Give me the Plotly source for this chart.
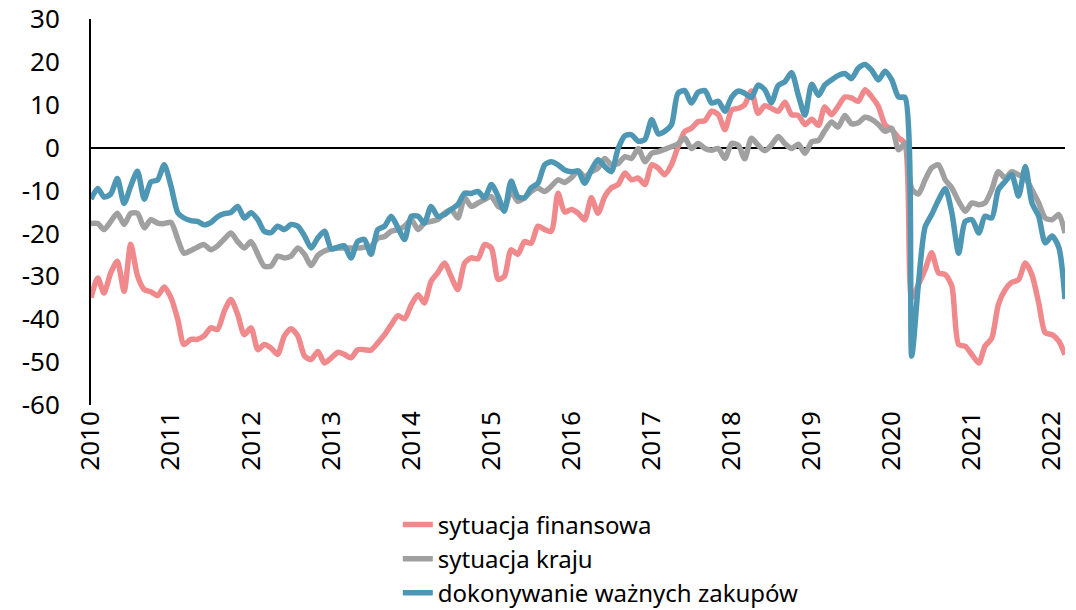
import pandas as pd
import plotly.graph_objects as go

# monthly observations, Jan 2010 - Mar 2022
months = pd.date_range("2010-01-01", periods=147, freq="MS")

year_ticks = [f"{y}-01-01" for y in range(2010, 2023)]
year_labels = [str(y) for y in range(2010, 2023)]

y_ticks = [-60, -50, -40, -30, -20, -10, 0, 10, 20, 30]
y_labels = ["-60", "-50", "-40", "-30", "-20", "-10", "0", "10", "20", "30"]

sytuacja_finansowa = [
    -35, -30.4, -33.9, -29.2, -26.5, -33.5, -22.5, -29.9, -33.1, -33.6, -34.5, -32.5,
    -35, -40.1, -45.9, -44.7, -44.7, -43.9, -42, -42.4, -38.1, -35.4, -38.9, -43.6,
    -42, -47.1, -45.9, -46.7, -48.2, -43.9, -42.2, -43.9, -48.6, -49.4, -47.5, -50.2,
    -49, -47.7, -48.2, -49, -47.1, -47.1, -47.2, -45.5, -43.6, -41.3, -39.2, -39.9,
    -36.6, -34.3, -36.2, -31.2, -29.2, -26.9, -30, -33.1, -26.9, -25.7, -25.9, -22.6,
    -23.4, -30.7, -30, -23.8, -24.9, -21.9, -22.3, -18.3, -19.1, -19.5, -10.6, -15,
    -14.4, -15.3, -16.8, -11.7, -15.3, -11.4, -9.4, -8.6, -5.9, -7.5, -7.1, -8.6,
    -4, -4.8, -6.3, -4, 0.2, 3.8, 4.5, 6.1, 6.3, 8.5, 7.7, 4.2,
    8.8, 9.2, 10, 13.2, 8, 9.8, 9.2, 8.5, 10.6, 7.7, 7.5, 5.4,
    6.6, 5.2, 9.5, 7.7, 9.6, 11.8, 11.6, 10.8, 13.5, 11.9, 9.6, 5.4,
    4.2, 2.3, 1, -35, -32, -28.4, -24.5, -29.2, -29.6, -32.3, -45.9, -46.3,
    -48.3, -50.2, -46.3, -44.4, -36.6, -33.1, -31.4, -30.8, -26.9, -29.6, -36.2, -43.2,
    -43.6, -45.1, -48.3,
]

sytuacja_kraju = [
    -17.7, -17.7, -19.1, -17.2, -15.3, -17.9, -15.3, -15.3, -18.7, -16.8, -17.6, -17.7,
    -17.4, -21.4, -24.6, -24, -23.2, -22.6, -23.8, -22.9, -21.3, -19.9, -21.9, -23.4,
    -21.9, -24.9, -27.6, -27.6, -25.3, -25.7, -25.3, -23.4, -24.9, -27.5, -25.1, -24.1,
    -23.6, -23.4, -23.4, -23.4, -23.4, -23.2, -23, -21.1, -20.7, -19.5, -19.1, -18.3,
    -16.8, -19.1, -17.6, -17.2, -16.8, -15.3, -14.4, -16.4, -11.7, -13.7, -12.9, -12.1,
    -11.4, -13.7, -14.1, -10.2, -12.5, -11.7, -10.2, -9.4, -10.2, -9, -7.5, -8.1,
    -7, -5.4, -6.8, -5.6, -4.8, -2.5, -4, -3.7, -2.1, -2.5, -0.2, -3.3,
    -1.3, -0.9, -0.4, 0.2, 0.9, 2.2, -0.2, 1, -0.2, -0.6, -0.2, -2.5,
    1, 0.5, -2.6, 2.2, 0.6, -0.7, 0.6, 2.6, 0.9, -0.2, 0.8, -1.3,
    1.4, 1.7, 3.9, 6, 4.8, 7.5, 5.6, 5.8, 7.1, 6.6, 5.4, 3.8,
    4.5, -0.5, 1, -9.6, -10.8, -7.5, -4.7, -4, -7.5, -9.4, -12.5, -14.8,
    -12.9, -13.3, -12.9, -9.8, -5.6, -7.1, -5.6, -6.3, -7.1, -9.8, -12.9, -16.4,
    -16.8, -15.6, -19.9,
]

wazne_zakupy = [
    -12, -9.5, -11.5, -10.8, -7.2, -13, -9, -5.5, -12, -8, -7.5, -4,
    -9, -15.2, -16.4, -17, -17.2, -18, -17.5, -16.1, -15.4, -15.1, -13.7, -16.4,
    -15.2, -16.8, -19.5, -19.8, -18.3, -19.1, -17.9, -18.3, -20.6, -23.4, -21, -19.5,
    -23.6, -23.2, -22.9, -25.7, -21.9, -21.4, -24.9, -19.1, -18.3, -16, -18.7, -21.4,
    -16, -16, -17.6, -13.7, -16, -15.6, -14.4, -13.3, -10.6, -10.7, -10.2, -11.7,
    -8.6, -11.4, -14.8, -7.8, -11.4, -11.7, -9.4, -8.3, -4, -3.3, -4, -5.2,
    -5.6, -5.5, -8.3, -5.2, -2.8, -4.4, -5.6, -0.2, 2.8, 3, 1.5, 1.9,
    6.5, 3.2, 3.8, 5.3, 12.7, 13.3, 10.4, 12.9, 13.3, 10.4, 10.8, 8.5,
    11.8, 13.2, 12.7, 11.7, 14.6, 13.5, 10.5, 14.5, 15.4, 17.5, 12.2, 7.6,
    14.8, 12.2, 14.6, 15.8, 16.8, 17.3, 16.1, 18.5, 19.4, 18.1, 15.8, 17.8,
    15.8, 11.8, 11.7, -48.6, -32, -18.5, -15.6, -12.2, -9.6, -15.2, -24.6, -17.2,
    -16.8, -19.9, -16, -16.4, -9.8, -7.9, -6.3, -11.3, -4.4, -12.9, -16, -22.2,
    -20.6, -23.3, -35.3,
]

series = [
    ("sytuacja finansowa", sytuacja_finansowa, "#F0898B"),
    ("sytuacja kraju", sytuacja_kraju, "#A0A0A0"),
    ("dokonywanie ważnych zakupów", wazne_zakupy, "#4D96B4"),
]

FONT = "Noto Sans"

fig = go.Figure()
for name, vals, col in series:
    fig.add_trace(go.Scatter(
        x=months, y=vals, name=name, mode="lines",
        line=dict(color=col, width=5.5, shape="spline", smoothing=0.7),
    ))

fig.update_layout(
    width=1076, height=610,
    margin=dict(l=91, r=11, t=19, b=205, autoexpand=False),
    paper_bgcolor="white", plot_bgcolor="white",
    font=dict(family=FONT, size=26, color="black"),
    showlegend=True,
    legend=dict(
        orientation="v", xref="paper", x=0.315, xanchor="left",
        yref="container", y=0.1765, yanchor="top",
        font=dict(family=FONT, size=24, color="black"),
        bgcolor="rgba(0,0,0,0)", tracegroupgap=0, maxheight=300,
    ),
    xaxis=dict(
        range=[months[0], months[-1]], automargin=False,
        tickmode="array", tickvals=year_ticks, ticktext=year_labels,
        tickangle=-90, showgrid=False, showline=False, zeroline=False,
        ticks="", tickfont=dict(family=FONT, size=26),
        ticklabeloverflow="allow",
    ),
    yaxis=dict(
        range=[-60, 30], automargin=False,
        tickmode="array", tickvals=y_ticks, ticktext=y_labels,
        showgrid=False, showline=True, linecolor="black", linewidth=2,
        zeroline=True, zerolinecolor="black", zerolinewidth=2,
        ticks="", ticklabelstandoff=24, tickfont=dict(family=FONT, size=26),
        ticklabeloverflow="allow",
    ),
)

# remove the default 8 px page margin so the figure fills the window exactly
fig.write_html(
    "out.html",
    config={"displayModeBar": False},
    post_script="document.body.style.margin='0';document.body.style.overflow='hidden';",
)
